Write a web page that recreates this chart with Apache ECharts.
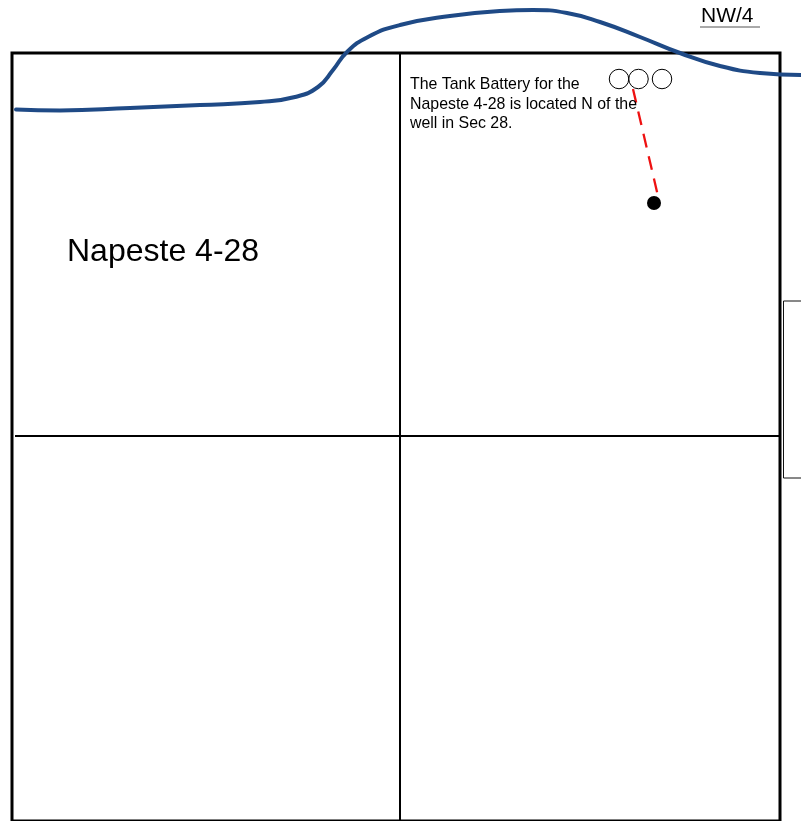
<!DOCTYPE html>
<html>
<head>
<meta charset="utf-8">
<style>html,body{margin:0;padding:0;background:#fff}#c{width:801px;height:821px}</style>
<script src="https://cdn.jsdelivr.net/npm/echarts@6/dist/echarts.min.js"></script>
</head>
<body>
<div id="c"></div>
<script>
const creekLine = [[16,109.5],[60,110.5],[130,108],[200,105],[260,102],[295,97],[318,87],[333,70],[347,52],[368,37],[400,25],[450,16],[500,11],[533,10],[567,13],[600,22],[640,37],[680,53],[720,66],[760,73],[801,75]];
const sectionOutline = [[12,53],[780,53],[780,821],[12,821],[12,53]];
const quarterVertical = [[400,53],[400,821]];
const quarterHorizontal = [[15,436],[780,436]];
const adjacentBox = [[801,301],[783.5,301],[783.5,478],[801,478]];
const nwUnderline = [[700,27],[760,27]];
const pipeline = [[633,89],[657.5,194]];
const tanks = [[619,79],[638.5,79],[662,79]];
const well = [[654,203]];
const labels = [
  {text:'Napeste 4-28', left:67, top:236, size:32},
  {text:'NW/4', left:701, top:6, size:21},
  {text:'The Tank Battery for the', left:410, top:77, size:15.9},
  {text:'Napeste 4-28 is located N of the', left:410, top:97, size:15.9},
  {text:'well in Sec 28.', left:410, top:116, size:15.9}
];
const line = (data,color,width,extra) => ({type:'line',data,symbol:'none',silent:true,animation:false,
  lineStyle:Object.assign({color,width,join:'miter',cap:'butt'},extra||{})});
const chart = echarts.init(document.getElementById('c'),null,{renderer:'canvas'});
chart.setOption({
  backgroundColor:'#fff',
  animation:false,
  grid:{left:0,right:0,top:0,bottom:0,containLabel:false},
  xAxis:{type:'value',min:0,max:801,show:false},
  yAxis:{type:'value',min:0,max:821,inverse:true,show:false},
  tooltip:{show:false},
  title:labels.map(l=>({text:l.text,left:l.left,top:l.top,padding:0,
    textStyle:{fontFamily:'Liberation Sans',fontSize:l.size,fontWeight:'normal',color:'#000'}})),
  series:[
    line(adjacentBox,'#111',1),
    line(quarterVertical,'#000',2),
    line(quarterHorizontal,'#000',2),
    line(sectionOutline,'#000',3,{cap:'square'}),
    line(nwUnderline,'#555',1),
    line(pipeline,'#ee1111',2.3,{type:[14,9]}),
    Object.assign(line(creekLine,'#1f4a86',4,{cap:'round',join:'round'}),{smooth:0.5}),
    {type:'scatter',data:tanks,symbol:'circle',symbolSize:19.5,silent:true,
      itemStyle:{color:'rgba(255,255,255,0)',borderColor:'#000',borderWidth:1,opacity:1}},
    {type:'scatter',data:well,symbol:'circle',symbolSize:14,silent:true,itemStyle:{color:'#000',opacity:1}}
  ]
});
</script>
</body>
</html>
